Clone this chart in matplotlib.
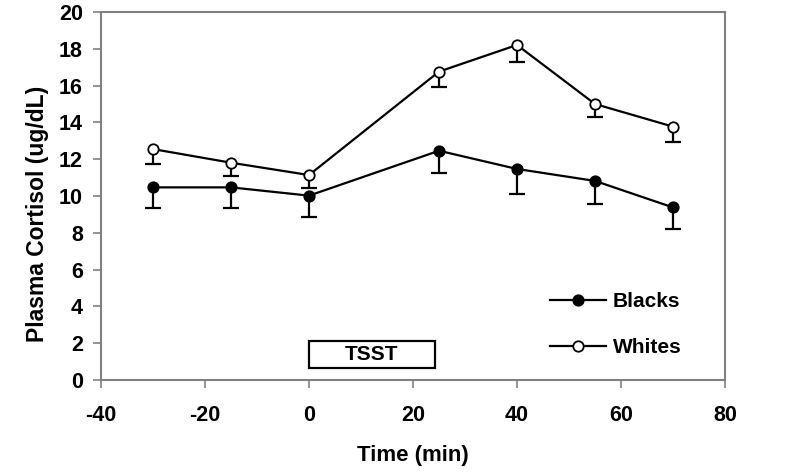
import matplotlib
matplotlib.use("Agg")
import matplotlib.pyplot as plt
from matplotlib.patches import Rectangle
import numpy as np

plt.rcParams['font.family'] = ['Liberation Sans', 'DejaVu Sans']
plt.rcParams['font.weight'] = 'bold'

# time points (min) and cortisol means / SEM
time_min = [-30, -15, 0, 25, 40, 55, 70]
blacks_mean = [10.47, 10.47, 10.02, 12.46, 11.47, 10.82, 9.38]
blacks_sem = [1.14, 1.14, 1.14, 1.23, 1.36, 1.25, 1.16]
whites_mean = [12.55, 11.81, 11.14, 16.76, 18.21, 15.00, 13.77]
whites_sem = [0.79, 0.71, 0.72, 0.82, 0.95, 0.72, 0.82]

x_ticks = [-40, -20, 0, 20, 40, 60, 80]
x_tick_labels = ["-40", "-20", "0", "20", "40", "60", "80"]
y_ticks = [0, 2, 4, 6, 8, 10, 12, 14, 16, 18, 20]
y_tick_labels = [str(v) for v in y_ticks]

fig = plt.figure(figsize=(8, 4.73), dpi=100)
ax = fig.add_axes([0.12625, 0.1966, 0.78, 0.778])

t = np.array(time_min)
series = [
    ("Blacks", np.array(blacks_mean), np.array(blacks_sem), "black"),
    ("Whites", np.array(whites_mean), np.array(whites_sem), "white"),
]

handles = []
for i, (name, mean, sem, face) in enumerate(series):
    # only the lower half of the error bar is drawn
    ax.vlines(t, mean - sem, mean, color="black", lw=1.6, zorder=2 + i)
    ax.plot(t, mean - sem, ls="none", marker="_", markersize=12,
            markeredgewidth=1.6, color="black", zorder=2 + i)
    h, = ax.plot(t, mean, color="black", lw=1.6, marker="o", markersize=7.5,
                 markerfacecolor=face, markeredgecolor="black",
                 markeredgewidth=1.3, zorder=4 + i, label=name)
    handles.append(h)

# TSST bar
ax.add_patch(Rectangle((0, 0.65), 24.2, 1.47, fill=False, ec="black", lw=1.6, zorder=3))
ax.text(12.1, 1.39, "TSST", ha="center", va="center", fontsize=15, fontweight="bold")

ax.set_xlim(-40, 80)
ax.set_ylim(0, 20)
ax.set_xticks(x_ticks)
ax.set_xticklabels(x_tick_labels, fontsize=15.5, fontweight="bold")
ax.set_yticks(y_ticks)
ax.set_yticklabels(y_tick_labels, fontsize=15.5, fontweight="bold")
ax.tick_params(axis="both", direction="out", length=6, width=1.2, color="#808080")
ax.tick_params(axis="x", pad=12)
ax.tick_params(axis="y", pad=7)
for sp in ax.spines.values():
    sp.set_color("#808080")
    sp.set_linewidth(1.5)

ax.set_xlabel("Time (min)", fontsize=16, fontweight="bold", labelpad=14)
ax.set_ylabel("Plasma Cortisol (ug/dL)", fontsize=16.5, fontweight="bold")
ax.yaxis.set_label_coords(-0.0836, 0.451)

ax.legend(handles=handles, loc="center left", bbox_to_anchor=(0.7196, 0.151),
          frameon=False, handlelength=2.7, handletextpad=0.3,
          labelspacing=1.3, borderpad=0, borderaxespad=0,
          prop={"weight": "bold", "size": 15})

fig.savefig("out.png", dpi=100)
